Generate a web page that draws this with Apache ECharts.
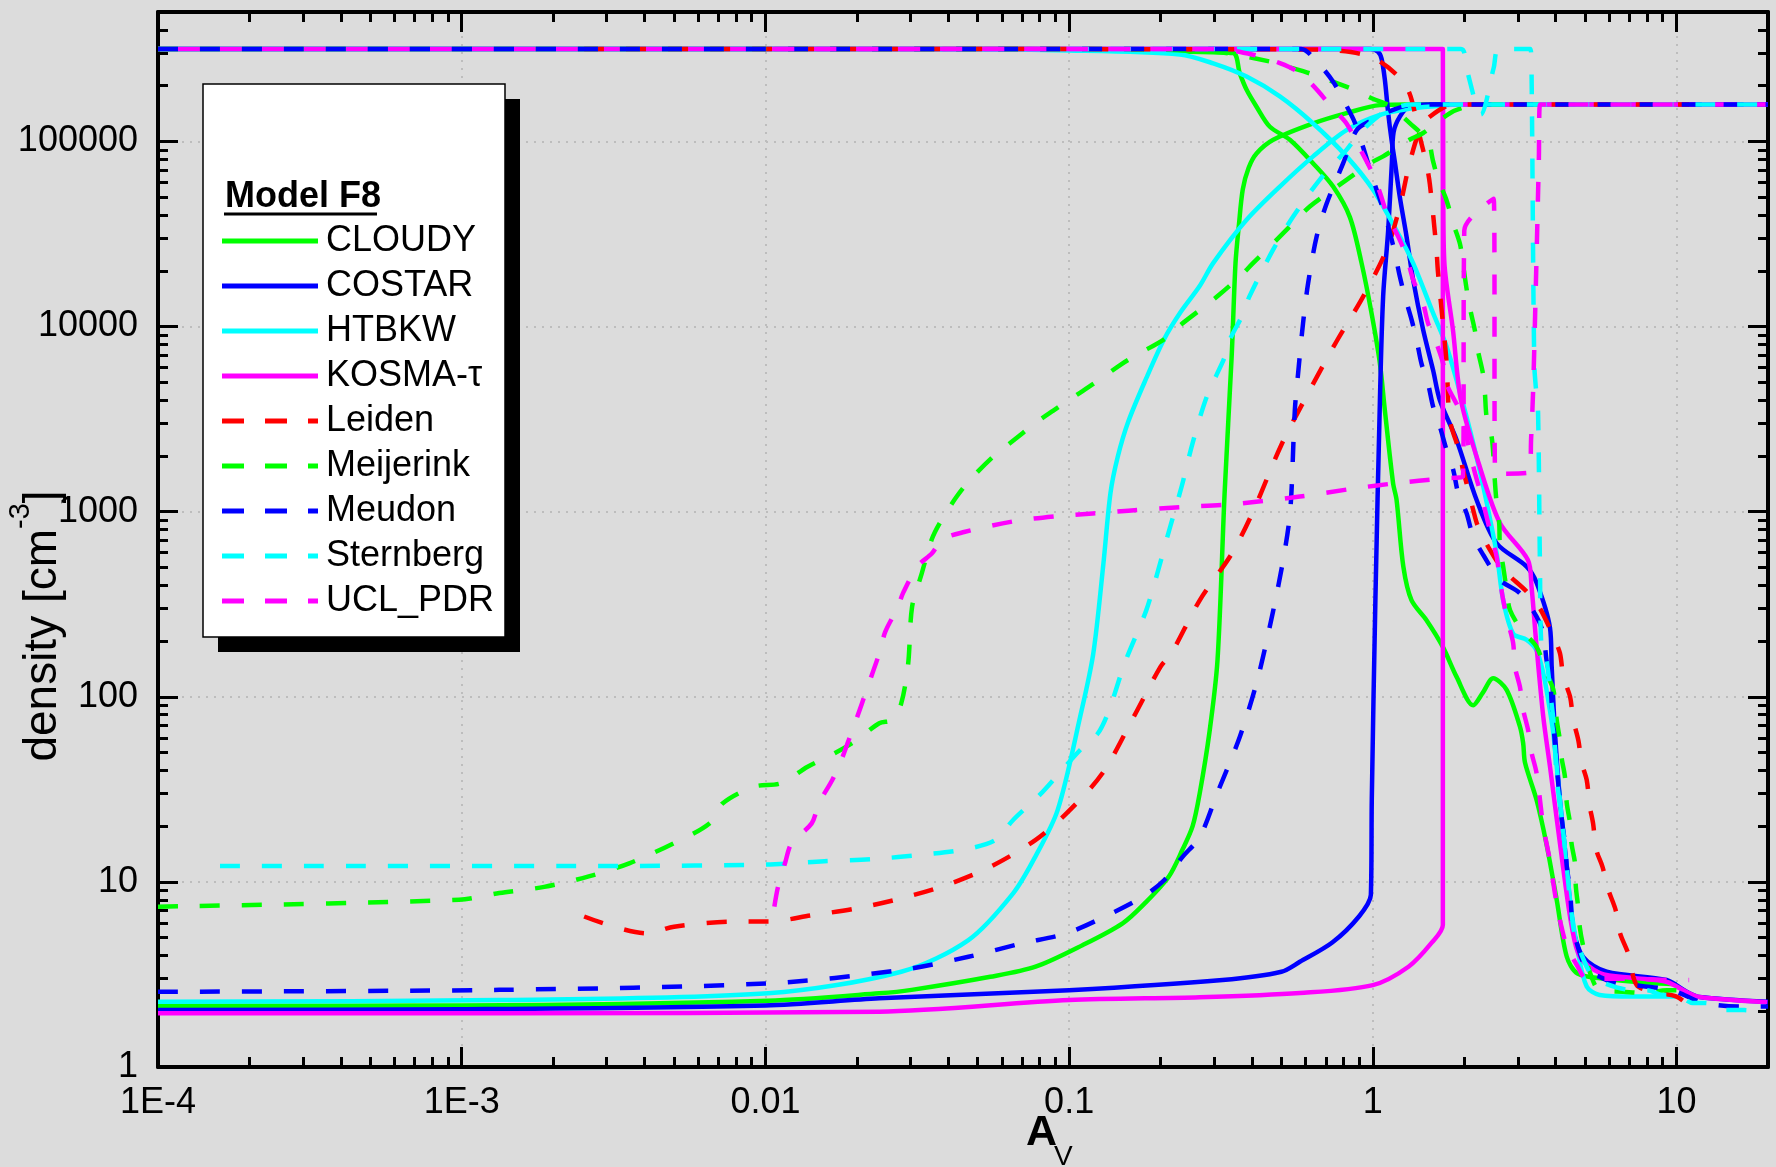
<!DOCTYPE html>
<html><head><meta charset="utf-8">
<script src="https://cdn.jsdelivr.net/npm/echarts@6/dist/echarts.min.js"></script>
<style>html,body{margin:0;padding:0;background:#dcdcdc;}#c{width:1776px;height:1167px;}</style>
</head><body><div id="c"></div>
<script>
// ---------- DATA: [A_V, density] ----------
const legendNames = ['CLOUDY','COSTAR','HTBKW','KOSMA-\u03c4','Leiden','Meijerink','Meudon','Sternberg','UCL_PDR'];

const cloudyH2 = [[1e-4,2.14],[0.001,2.15],[0.0102,2.28],[0.0237,2.5],[0.0303,2.61],[0.055,3.07],[0.0775,3.48],[0.111,4.56],[0.15,5.97],[0.178,7.7],[0.213,10.7],[0.236,14.9],[0.255,20],[0.269,30],[0.29,65],[0.308,158],[0.325,1260],[0.343,7000],[0.353,2.2e4],[0.362,3.5e4],[0.373,5.5e4],[0.39,7.2e4],[0.414,8.6e4],[0.47,1.02e5],[0.636,1.25e5],[0.819,1.42e5],[1.055,1.57e5],[1.3,1.58e5],[10,1.58e5]];
const cloudyH = [[1e-4,3.16e5],[0.05,3.16e5],[0.1,3.14e5],[0.25,3.05e5],[0.3466,3.0e5],[0.3647,2.33e5],[0.384,1.9e5],[0.414,1.54e5],[0.458,1.2e5],[0.533,1.02e5],[0.636,7.6e4],[0.74,5.7e4],[0.84,3.9e4],[0.918,2.2e4],[0.99,1.18e4],[1.055,6300],[1.095,3540],[1.166,1420],[1.197,1156],[1.26,505],[1.34,333],[1.5,260],[1.7,186],[1.887,128],[2.14,90],[2.3,105],[2.49,126],[2.757,109],[3.05,69],[3.126,56],[3.17,44],[3.46,27.7],[3.73,16],[4.03,8],[4.35,3.94],[4.72,3.2],[5.8,3.0],[8,2.85],[10,2.8]];

const costarH2 = [[1e-4,2.03],[0.001,2.05],[0.01,2.15],[0.0237,2.35],[0.1,2.6],[0.32,2.95],[0.5,3.27],[0.575,3.7],[0.735,4.7],[0.9,6.5],[0.985,8.5],[0.992,28],[1.02,350],[1.055,4000],[1.081,1.45e4],[1.123,3.3e4],[1.155,7.65e4],[1.17,1.12e5],[1.227,1.36e5],[1.32,1.55e5],[1.5,1.58e5],[20,1.58e5]];
const costarH = [[1e-4,3.16e5],[0.98,3.16e5],[1.04,3.05e5],[1.068,2.8e5],[1.095,2.16e5],[1.123,1.43e5],[1.152,1.02e5],[1.182,7.7e4],[1.227,5.0e4],[1.291,3.06e4],[1.357,1.79e4],[1.464,9600],[1.579,5800],[1.662,4000],[1.887,2440],[2.196,1156],[2.556,675],[3.208,505],[3.46,413],[3.83,236],[3.88,145],[3.98,63],[4.13,27.7],[4.35,12.1],[4.56,5.7],[4.92,3.94],[5.89,3.27],[9.27,2.95],[10.8,2.55],[11.9,2.39],[20,2.25]];

const htbkwH2 = [[1e-4,2.25],[0.00133,2.3],[0.0102,2.5],[0.028,3.27],[0.0466,4.85],[0.0654,8.67],[0.0774,13.7],[0.0917,24.5],[0.1087,78],[0.12,170],[0.1296,520],[0.1368,1260],[0.1445,1973],[0.1567,3075],[0.1793,5240],[0.2054,8540],[0.2314,1.18e4],[0.2694,1.66e4],[0.298,2.2e4],[0.384,3.77e4],[0.494,5.7e4],[0.636,8.3e4],[0.819,1.15e5],[1.055,1.39e5],[1.357,1.51e5],[1.66,1.56e5],[2.0,1.58e5],[10,1.58e5]];
const htbkwH = [[1e-4,3.16e5],[0.03,3.16e5],[0.1,3.1e5],[0.2314,2.95e5],[0.298,2.64e5],[0.384,2.24e5],[0.494,1.75e5],[0.636,1.25e5],[0.819,8.3e4],[1.0,5.5e4],[1.197,3.3e4],[1.357,2.2e4],[1.579,1.18e4],[1.749,7800],[1.984,3800],[2.14,2340],[2.31,1365],[2.556,596],[2.686,333],[2.897,219],[3.21,203],[3.46,178],[3.64,134],[3.78,96],[3.93,63],[4.13,27.7],[4.46,8.0],[4.72,4.3],[5.06,2.72],[5.58,2.45],[7.2,2.4],[10,2.4]];

const kosmaH2 = [[1e-4,1.95],[0.00133,1.95],[0.0237,1.99],[0.1,2.3],[0.269,2.38],[0.575,2.51],[1.0,2.77],[1.31,3.48],[1.56,4.68],[1.70,5.85],[1.70,1.58e5],[20,1.58e5]];
const kosmaH = [[1e-4,3.16e5],[1.70,3.16e5],[1.705,5e4],[1.72,2.2e4],[1.835,9600],[1.95,4000],[2.25,1743],[2.62,869],[3.24,548],[3.33,393],[3.46,186],[3.64,78],[3.83,42],[4.23,12.0],[4.52,5.71],[4.81,3.93],[5.59,3.22],[7.18,3.03],[9.3,2.88],[10.8,2.54],[11.9,2.39],[19.9,2.24]];

const leidenH2 = [[0.00253,6.5],[0.00407,5.27],[0.005,5.73],[0.00774,6.1],[0.0102,6.1],[0.01425,6.6],[0.02,7.2],[0.028,8.15],[0.0393,9.6],[0.0552,12.1],[0.0774,16.8],[0.0982,23.5],[0.1287,38.6],[0.1632,78],[0.1998,145],[0.2168,171],[0.2694,333],[0.3433,594],[0.4044,1012],[0.5,2300],[0.62,4540],[0.759,8300],[0.929,1.45e4],[1.11,2.6e4],[1.227,4.45e4],[1.32,7.6e4],[1.428,1.15e5],[1.54,1.36e5],[1.84,1.58e5],[11,1.58e5]];
const leidenH = [[0.00253,3.16e5],[0.6,3.14e5],[0.76,3.1e5],[0.929,2.95e5],[1.055,2.7e5],[1.227,2.2e5],[1.32,1.82e5],[1.393,1.3e5],[1.428,1.06e5],[1.50,7.6e4],[1.54,5.9e4],[1.62,2.6e4],[1.637,2.0e4],[1.70,1.05e4],[1.75,6300],[1.793,3130],[1.935,2070],[1.97,1750],[2.035,1420],[2.14,1020],[2.22,830],[2.43,621],[2.69,484],[3.21,370],[3.55,300],[3.93,211],[4.13,172],[4.24,128],[4.46,100],[4.57,75],[4.75,58],[4.87,44],[5.06,35.5],[5.18,25.5],[5.31,20.7],[5.44,14.9],[5.7,12.1],[5.97,9.0],[6.3,7.05],[6.51,5.3],[6.93,4.1],[7.39,2.77],[8.38,2.55],[10,2.4],[11.07,2.12]];

const meijerinkH2 = [[1e-4,7.35],[0.00098,8.0],[0.00133,8.7],[0.00187,9.4],[0.00262,10.7],[0.00356,12.6],[0.005,16.2],[0.00654,20.7],[0.00724,26.6],[0.00918,32.7],[0.01125,34.1],[0.01377,41.9],[0.01688,49.5],[0.02,58.4],[0.0237,71.9],[0.0262,75],[0.028,92],[0.0295,150],[0.0304,306],[0.0326,455],[0.0353,709],[0.0378,887],[0.0427,1210],[0.0476,1510],[0.056,1973],[0.0641,2354],[0.0774,3007],[0.0887,3514],[0.1043,4200],[0.1227,5012],[0.1484,6250],[0.17,7145],[0.2054,8530],[0.2289,9980],[0.2767,1.27e4],[0.3084,1.46e4],[0.3647,1.86e4],[0.403,2.2e4],[0.482,2.94e4],[0.533,3.47e4],[0.62,4.45e4],[0.74,5.5e4],[0.819,6.2e4],[0.977,7.6e4],[1.081,8.3e4],[1.32,1.02e5],[1.464,1.11e5],[1.793,1.42e5],[2.035,1.54e5],[2.3,1.58e5],[10.3,1.58e5]];
const meijerinkH = [[1e-4,3.16e5],[0.1,3.16e5],[0.3,3.05e5],[0.458,2.7e5],[0.52,2.54e5],[0.62,2.33e5],[0.84,1.94e5],[1.0,1.7e5],[1.14,1.55e5],[1.32,1.26e5],[1.52,1.0e5],[1.576,7.9e4],[1.637,6.3e4],[1.749,4.8e4],[1.839,3.6e4],[1.935,2.8e4],[1.979,2.2e4],[2.035,1.6e4],[2.087,1.26e4],[2.168,9500],[2.218,7400],[2.303,5600],[2.338,4400],[2.368,3260],[2.46,2540],[2.5,1900],[2.52,1490],[2.556,1110],[2.606,865],[2.62,647],[2.686,505],[2.757,378],[2.828,294],[3.09,229],[3.46,186],[3.73,134],[3.93,109],[4.03,75],[4.13,58],[4.18,47],[4.29,37],[4.35,26.6],[4.46,20.7],[4.51,16.1],[4.63,12.6],[4.66,9.4],[4.74,7.35],[4.8,5.7],[4.93,4.47],[5.2,3.2],[5.58,2.6],[6.67,2.55],[7.8,2.51],[9.3,2.6],[10.3,2.6]];

const meudonH2 = [[1e-4,2.55],[0.00133,2.61],[0.0102,2.83],[0.028,3.34],[0.0466,3.94],[0.07,4.66],[0.098,5.27],[0.138,6.77],[0.1746,8.3],[0.2054,10.2],[0.2367,13.7],[0.2694,17.5],[0.307,30],[0.365,61],[0.417,124],[0.469,288],[0.51,583],[0.535,1024],[0.5535,3540],[0.5675,5600],[0.589,1.04e4],[0.612,1.71e4],[0.653,3.06e4],[0.704,4.6e4],[0.798,7.6e4],[0.884,1.15e5],[0.99,1.3e5],[1.095,1.42e5],[1.32,1.57e5],[1.5,1.58e5],[20,1.58e5]];
const meudonH = [[1e-4,3.16e5],[0.58,3.16e5],[0.653,2.7e5],[0.74,2.1e5],[0.82,1.55e5],[0.873,1.26e5],[0.929,9.3e4],[0.977,7.1e4],[1.028,5.5e4],[1.081,4.3e4],[1.138,3.2e4],[1.182,2.5e4],[1.227,1.86e4],[1.275,1.45e4],[1.341,1.09e4],[1.393,8470],[1.446,6300],[1.52,4900],[1.579,3690],[1.662,2880],[1.749,2150],[1.839,1680],[1.91,1257],[2.035,980],[2.14,733],[2.31,583],[2.62,427],[3.05,362],[3.46,271],[3.64,220],[3.73,158],[3.83,128],[3.88,92],[3.93,72],[3.98,54],[4.03,42],[4.18,22.5],[4.29,16.1],[4.35,12.1],[4.46,9.0],[4.51,6.8],[4.57,5.5],[5.06,3.34],[5.58,3.07],[6.3,2.83],[7.2,2.77],[8.9,2.66],[10,2.55],[11.9,2.25],[13.7,2.16],[16.6,2.12],[20,2.12]];

const sternbergH2 = [[1.6e-4,12.2],[0.00344,12.2],[0.01,12.4],[0.0152,12.9],[0.0229,13.3],[0.0325,14.0],[0.0446,14.9],[0.0571,16.8],[0.0654,21.6],[0.08,29.5],[0.0917,37.8],[0.1087,51.6],[0.1244,63.5],[0.1354,84.8],[0.1524,152],[0.1793,292],[0.1945,455],[0.211,741],[0.235,1380],[0.2551,2354],[0.2842,4200],[0.3254,6840],[0.338,8470],[0.3728,1.16e4],[0.392,1.45e4],[0.4695,2.6e4],[0.5466,3.93e4],[0.668,6.2e4],[0.819,9e4],[0.906,1.11e5],[1.1,1.45e5],[1.35,1.58e5],[20,1.58e5]];
const sternbergH = [[0.1,3.16e5],[1.95,3.16e5],[2.03,2.5e5],[2.27,1.4e5],[2.5,2.5e5],[2.6,3.16e5],[3.3,3.16e5],[3.33,2.4e5],[3.4,6300],[3.46,4200],[3.5,3400],[3.55,500],[3.59,186],[3.73,158],[3.85,100],[3.93,75],[4.03,37],[4.24,18.3],[4.57,5.7],[4.8,4.3],[5.2,3.2],[5.58,2.9],[7.2,2.6],[8.0,2.6],[9,2.45],[10,2.45],[11.3,2.22],[12.5,2.22],[14,2.03],[16.7,2.03],[19.8,1.95]];

const uclH2 = [[0.0107,7.35],[0.011,9.4],[0.0116,12.6],[0.0122,16.2],[0.0142,20.7],[0.015,26.6],[0.0166,35.5],[0.0177,44.6],[0.0189,59.7],[0.0199,75],[0.0217,113],[0.0238,175],[0.0248,224],[0.0273,306],[0.0284,364],[0.0317,508],[0.0353,594],[0.0383,709],[0.0451,776],[0.0658,887],[0.0911,946],[0.1195,977],[0.1567,1012],[0.235,1059],[0.3344,1092],[0.575,1206],[0.877,1337],[1.18,1422],[1.70,1513],[1.98,1550],[2.0,3.3e4],[2.5,4.9e4],[2.53,1600],[3.27,1625],[3.32,2500],[3.37,4500],[3.45,2e4],[3.52,8e4],[3.55,1.58e5],[11,1.58e5]];
const uclH = [[0.0107,3.16e5],[0.3,3.16e5],[0.403,2.94e5],[0.494,2.65e5],[0.561,2.4e5],[0.636,2.0e5],[0.74,1.5e5],[0.819,1.25e5],[0.918,8.8e4],[0.99,6.9e4],[1.055,5.3e4],[1.11,4.1e4],[1.212,3.06e4],[1.291,2.4e4],[1.357,1.79e4],[1.464,1.33e4],[1.52,1.04e4],[1.62,8100],[1.704,6300],[1.749,4900],[1.935,3500],[2.01,2800],[2.087,2090],[2.168,1620],[2.28,1210],[2.368,940],[2.46,733],[2.556,571],[2.62,430],[2.686,333],[2.79,250],[2.897,195],[2.936,145],[3.05,113],[3.126,85],[3.245,66],[3.33,50],[3.46,38.6],[3.64,20],[3.83,13],[3.93,9.8],[4.03,7.6],[4.18,5.7],[4.35,4.5],[4.72,3.5],[5.06,3.0],[7,3.0],[9.6,2.95],[11,2.95]];

const xTickLabels = {'-4':'1E-4','-3':'1E-3','-2':'0.01','-1':'0.1','0':'1','1':'10'};
const yTickLabels = {'0':'1','1':'10','2':'100','3':'1000','4':'10000','5':'100000'};

// ---------- CHART ----------
const FONT = '"Liberation Sans", Arial, Helvetica, sans-serif';
const xMin = 1e-4, xMax = 20, yMin = 1, yMax = 5e5;
const xMinor = [], yMinor = [];
for (let k = -4; k <= 1; k++) for (let m = 2; m <= 9; m++) { const v = +(m * Math.pow(10, k)).toPrecision(4); if (v < xMax * 0.999) xMinor.push(v); }
for (let k = 0; k <= 5; k++) for (let m = 2; m <= 9; m++) { const v = m * Math.pow(10, k); if (v < yMax * 0.999) yMinor.push(v); }

function decade(v) { const l = Math.log10(v); const e = Math.round(l); return Math.abs(l - e) < 1e-6 ? String(e) : null; }
const xLab = v => { const d = decade(v); return d !== null && xTickLabels[d] ? xTickLabels[d] : ''; };
const yLab = v => { const d = decade(v); return d !== null && yTickLabels[d] ? yTickLabels[d] : ''; };

const GREEN = '#00ff00', BLUE = '#0000ff', CYAN = '#00ffff', MAGENTA = '#ff00ff', RED = '#ff0000';
const models = [
  { name: legendNames[0], color: GREEN,   dashed: false, h2: cloudyH2,    h: cloudyH },
  { name: legendNames[1], color: BLUE,    dashed: false, h2: costarH2,    h: costarH },
  { name: legendNames[2], color: CYAN,    dashed: false, h2: htbkwH2,     h: htbkwH },
  { name: legendNames[3], color: MAGENTA, dashed: false, h2: kosmaH2,     h: kosmaH },
  { name: legendNames[4], color: RED,     dashed: true,  h2: leidenH2,    h: leidenH },
  { name: legendNames[5], color: GREEN,   dashed: true,  h2: meijerinkH2, h: meijerinkH },
  { name: legendNames[6], color: BLUE,    dashed: true,  h2: meudonH2,    h: meudonH },
  { name: legendNames[7], color: CYAN,    dashed: true,  h2: sternbergH2, h: sternbergH },
  { name: legendNames[8], color: MAGENTA, dashed: true,  h2: uclH2,       h: uclH }
];
function mk(m, data) {
  return {
    type: 'line', name: m.name, data: data, xAxisIndex: 0, yAxisIndex: 0, z: 2,
    symbol: 'none', showSymbol: false, smooth: 0.3, smoothConstraint: true, silent: true, clip: true,
    lineStyle: { color: m.color, width: 4.5, type: m.dashed ? [20, 22] : 'solid', cap: 'butt', join: 'round' },
    itemStyle: { color: m.color }, emphasis: { disabled: true }
  };
}
const series = [];
models.forEach(m => { series.push(mk(m, m.h2)); series.push(mk(m, m.h)); });

const ICON_SOLID = 'path://M0,0H96V5H0Z';
const ICON_DASH = 'path://M0,0H22V5H0Z M43,0H65V5H43Z M86,0H96V5H86Z';
const legendData = models.map(m => ({ name: m.name, icon: m.dashed ? ICON_DASH : ICON_SOLID, itemStyle: { color: m.color, borderWidth: 0 } }));

const axisLine = { show: true, onZero: false, lineStyle: { color: '#000', width: 4 } };
const majTick = { show: true, inside: true, length: 20, lineStyle: { color: '#000', width: 3 } };
const minTick = vals => ({ show: true, inside: true, length: 10, customValues: vals, lineStyle: { color: '#000', width: 3 } });
const split = { show: true, lineStyle: { color: '#bdbdbd', width: 2, type: [2, 6] } };
const off = { show: false };

function xAx(pos, major) {
  return {
    type: 'log', logBase: 10, min: xMin, max: xMax, position: pos, gridIndex: 0,
    axisLine: major ? axisLine : off,
    axisTick: major ? majTick : minTick(xMinor),
    axisLabel: (major && pos === 'bottom') ? { show: true, formatter: xLab, fontSize: 36, fontFamily: FONT, color: '#000', margin: 18 } : off,
    splitLine: (major && pos === 'bottom') ? split : off,
    minorTick: off, minorSplitLine: off
  };
}
function yAx(pos, major) {
  return {
    type: 'log', logBase: 10, min: yMin, max: yMax, position: pos, gridIndex: 0,
    axisLine: major ? axisLine : off,
    axisTick: major ? majTick : minTick(yMinor),
    axisLabel: (major && pos === 'left') ? { show: true, formatter: yLab, fontSize: 36, fontFamily: FONT, color: '#000', margin: 20 } : off,
    splitLine: (major && pos === 'left') ? split : off,
    minorTick: off, minorSplitLine: off
  };
}

const chart = echarts.init(document.getElementById('c'), null, { renderer: 'canvas', width: 1776, height: 1167 });
chart.setOption({
  animation: false,
  backgroundColor: '#dcdcdc',
  grid: { left: 158, right: 8, top: 12, bottom: 100, containLabel: false },
  xAxis: [xAx('bottom', true), xAx('bottom', false), xAx('top', true), xAx('top', false)],
  yAxis: [yAx('left', true), yAx('left', false), yAx('right', true), yAx('right', false)],
  legend: {
    orient: 'vertical', left: 203, top: 84, data: legendData, selectedMode: false, z: 10,
    itemWidth: 96, itemHeight: 5, itemGap: 9,
    padding: [139, 9, 19, 19],
    backgroundColor: 'transparent', borderWidth: 0,
    textStyle: { fontSize: 36, fontFamily: FONT, color: '#000', lineHeight: 36, padding: [0, 0, 0, 3] }
  },
  graphic: [
    { type: 'rect', z: 5, shape: { x: 218, y: 99, width: 302, height: 553 }, style: { fill: '#000' } },
    { type: 'rect', z: 6, shape: { x: 203, y: 84, width: 302, height: 553 }, style: { fill: '#fff', stroke: '#000', lineWidth: 1.5 } },
    { type: 'text', z: 100, x: 225, y: 197, style: { text: 'Model F8', font: 'bold 36px ' + FONT, fill: '#000', align: 'left', verticalAlign: 'middle' } },
    { type: 'line', z: 100, shape: { x1: 224, y1: 214, x2: 377, y2: 214 }, style: { stroke: '#000', lineWidth: 3 } },
    { type: 'text', z: 100, x: 1026, y: 1133, style: { text: 'A', font: 'bold 43px ' + FONT, fill: '#000', align: 'left', verticalAlign: 'middle' } },
    { type: 'text', z: 100, x: 1054, y: 1157, style: { text: 'V', font: '28px ' + FONT, fill: '#000', align: 'left', verticalAlign: 'middle' } },
    { type: 'text', z: 100, x: 36, y: 626, rotation: Math.PI / 2,
      style: { text: '{m|density [cm}{s|-3}{m|]}', align: 'center', verticalAlign: 'middle',
        rich: { m: { fontSize: 46, fontFamily: FONT, fill: '#000', lineHeight: 60, verticalAlign: 'bottom' },
                s: { fontSize: 29, fontFamily: FONT, fill: '#000', lineHeight: 29, verticalAlign: 'top' } } } }
  ],
  series: series
});
</script>
</body></html>
